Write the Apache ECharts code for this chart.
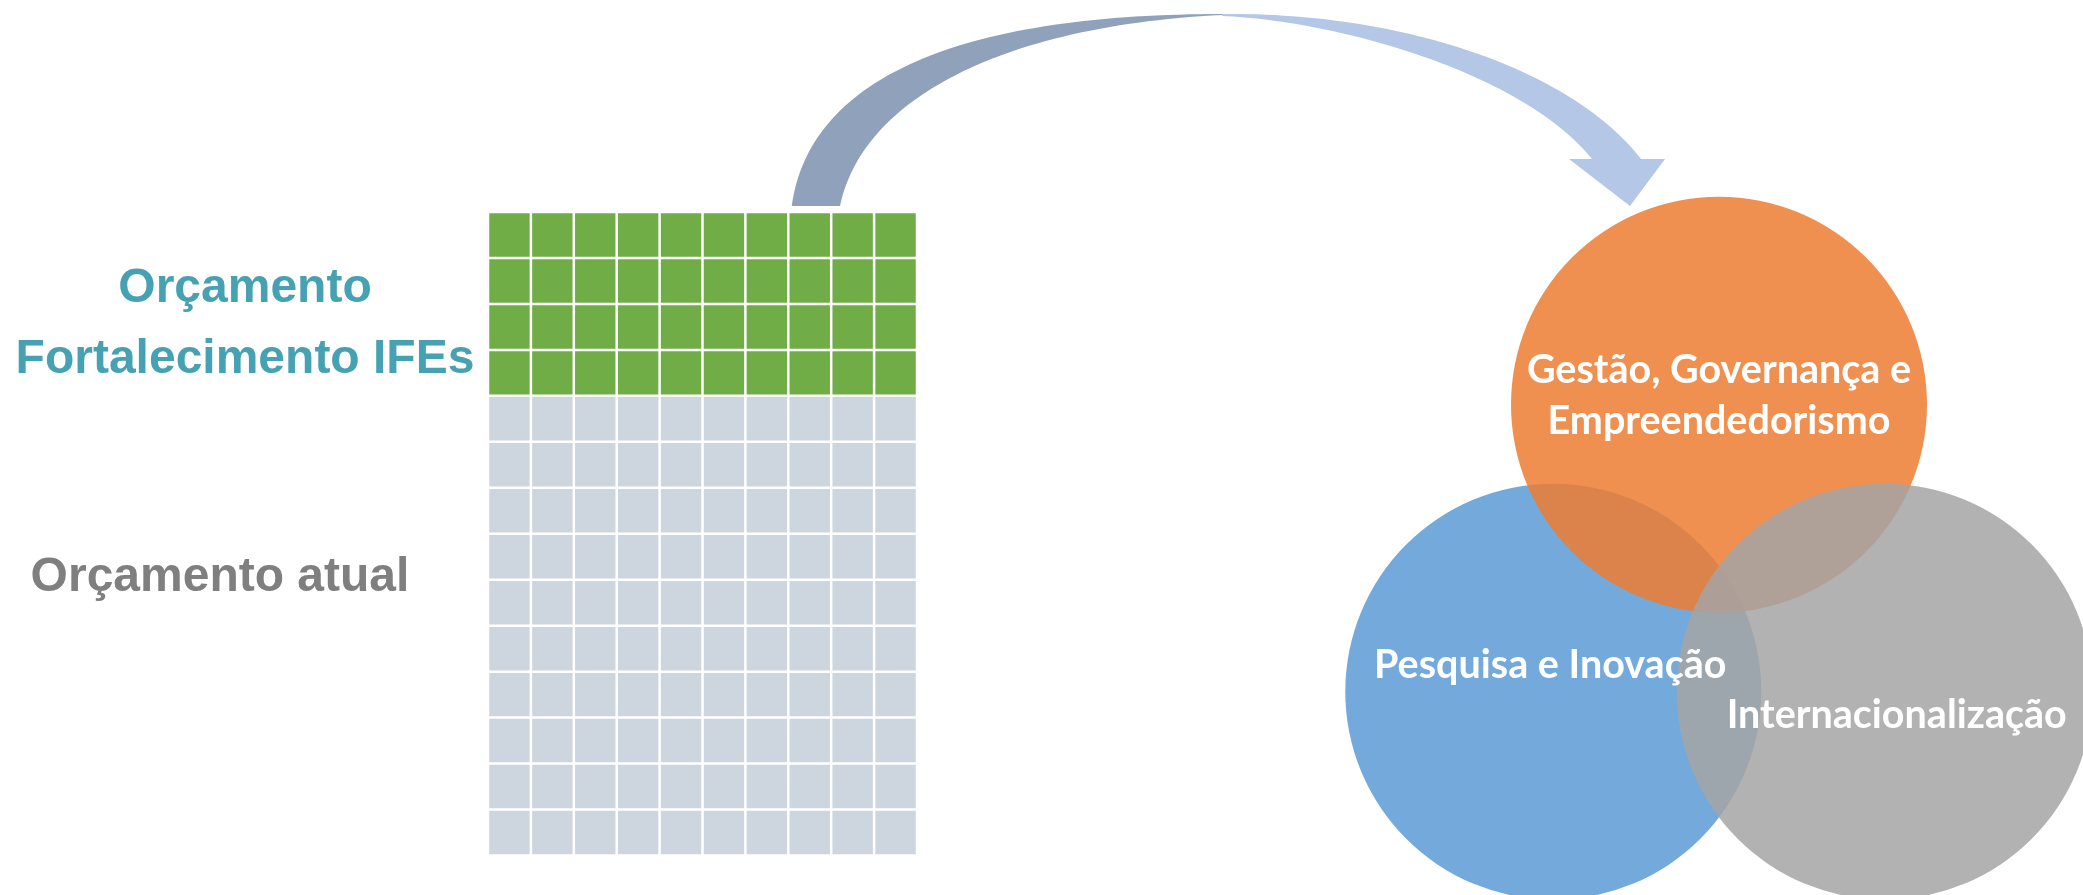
<!DOCTYPE html>
<html>
<head>
<meta charset="utf-8">
<script src="https://cdn.jsdelivr.net/npm/echarts@6/dist/echarts.min.js"></script>
<style>
html, body { margin: 0; padding: 0; background: #ffffff; }
#main { width: 2083px; height: 895px; }
</style>
</head>
<body>
<div id="main"></div>
<script>
// ---- data ----
const budgetCategories = ['Orçamento\nFortalecimento IFEs', 'Orçamento atual'];
const budgetCells = [40, 100];
const waffleColumns = 10;
const vennSets = ['Pesquisa e Inovação', 'Gestão, Governança e\nEmpreendedorismo', 'Internacionalização'];

// ---- derived ----
const totalCells = budgetCells.reduce((a, b) => a + b, 0);
const waffleRows = Math.ceil(totalCells / waffleColumns);
const colIdx = Array.from({ length: waffleColumns }, (_, i) => i);
const rowIdx = Array.from({ length: waffleRows }, (_, i) => i);

const cellColors = ['#70AD47', '#CDD5DF'];
const labelColors = ['#46A1B3', '#7F7F7F'];

let offset = 0;
const waffleSeries = budgetCategories.map((name, k) => {
  const data = [];
  for (let i = 0; i < budgetCells[k]; i++) {
    const idx = offset + i;
    data.push([idx % waffleColumns, Math.floor(idx / waffleColumns)]);
  }
  offset += budgetCells[k];
  return {
    type: 'custom',
    name: name,
    xAxisIndex: 0,
    yAxisIndex: 0,
    itemStyle: { color: cellColors[k] },
    renderItem: function (params, api) {
      const c = api.coord([api.value(0), api.value(1)]);
      const s = api.size([1, 1]);
      const g = 2.5;
      return {
        type: 'rect',
        shape: { x: c[0] - s[0] / 2 + g / 2, y: c[1] - s[1] / 2 + g / 2, width: s[0] - g, height: s[1] - g },
        style: { fill: api.visual('color') }
      };
    },
    data: data,
    silent: true
  };
});

// Venn layout: equilateral arrangement around the centroid (units of radius)
const vennColors = ['rgba(91,155,213,0.85)', 'rgba(237,125,49,0.85)', 'rgba(165,165,165,0.85)'];
const vennAngle = [210, 90, 330];
const vennDist = 0.92;
const vennLabelOffsets = [[-3, -26], [0, -9], [12, 24]];
const vennData = vennSets.map((name, i) => {
  const a = vennAngle[i] * Math.PI / 180;
  return {
    name: name,
    value: [vennDist * Math.cos(a), vennDist * Math.sin(a)],
    itemStyle: { color: vennColors[i] },
    label: { offset: vennLabelOffsets[i] }
  };
});

// ---- decorative curved arrow (sampled cubic Béziers) ----
function cubic(p0, p1, p2, p3, n) {
  const pts = [];
  for (let i = 0; i <= n; i++) {
    const t = i / n, u = 1 - t;
    pts.push([
      u * u * u * p0[0] + 3 * u * u * t * p1[0] + 3 * u * t * t * p2[0] + t * t * t * p3[0],
      u * u * u * p0[1] + 3 * u * u * t * p1[1] + 3 * u * t * t * p2[1] + t * t * t * p3[1]
    ]);
  }
  return pts;
}
const darkPts = cubic([791.7, 206], [812, 60], [1000, 14], [1222, 14], 60)
  .concat(cubic([1222, 15], [1000, 26], [862, 100], [840, 206], 60));
const lightPts = cubic([1222, 14], [1400, 12], [1570, 68], [1641, 159], 60)
  .concat([[1665, 159], [1630, 206], [1569, 159]])
  .concat(cubic([1592, 159], [1520, 70], [1330, 20], [1222, 16], 60));

const chart = echarts.init(document.getElementById('main'), null, { renderer: 'canvas' });

const option = {
  backgroundColor: '#ffffff',
  animation: false,
  grid: [
    { left: 488, top: 212, width: 429, height: 643.5, containLabel: false },
    { left: 1511, top: 388, width: 416, height: 416, containLabel: false }
  ],
  xAxis: [
    { gridIndex: 0, type: 'category', data: colIdx, show: false },
    { gridIndex: 1, type: 'value', min: -1, max: 1, show: false }
  ],
  yAxis: [
    { gridIndex: 0, type: 'category', data: rowIdx, inverse: true, show: false },
    { gridIndex: 1, type: 'value', min: -1, max: 1, show: false }
  ],
  graphic: [
    {
      type: 'polygon',
      silent: true,
      shape: { points: darkPts },
      style: { fill: '#8FA1BB' }
    },
    {
      type: 'polygon',
      silent: true,
      shape: { points: lightPts },
      style: { fill: '#B4C7E7' }
    },
    {
      type: 'text',
      x: 245, y: 324,
      silent: true,
      style: {
        text: budgetCategories[0],
        fill: labelColors[0],
        font: 'bold 48px "Liberation Sans", Arial, sans-serif',
        textAlign: 'center',
        textVerticalAlign: 'middle',
        lineHeight: 71
      }
    },
    {
      type: 'text',
      x: 220, y: 578,
      silent: true,
      style: {
        text: budgetCategories[1],
        fill: labelColors[1],
        font: 'bold 48px "Liberation Sans", Arial, sans-serif',
        textAlign: 'center',
        textVerticalAlign: 'middle'
      }
    }
  ],
  series: waffleSeries.concat([
    {
      type: 'scatter',
      xAxisIndex: 1,
      yAxisIndex: 1,
      clip: false,
      symbol: 'circle',
      symbolSize: 416,
      silent: true,
      itemStyle: { opacity: 1 },
      label: {
        show: true,
        position: 'inside',
        formatter: '{b}',
        color: '#ffffff',
        opacity: 1,
        fontFamily: 'Lato',
        fontWeight: 'bold',
        fontSize: 39.5,
        lineHeight: 51
      },
      data: vennData
    }
  ])
};

chart.setOption(option);
</script>
</body>
</html>
